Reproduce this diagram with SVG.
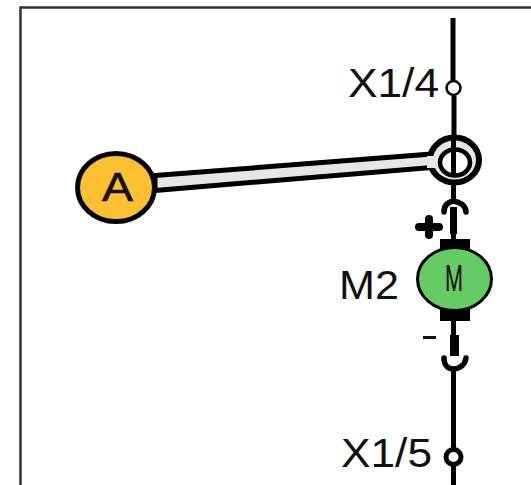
<svg xmlns="http://www.w3.org/2000/svg" width="531" height="485" viewBox="0 0 531 485">
<style>
text{font-family:"Liberation Sans",Arial,sans-serif;fill:#111}
.lab{font-size:41px}
.w{fill:none;stroke:#000;stroke-width:5}
.f{fill:none;stroke:#000;stroke-width:5.500;stroke-linecap:round}
</style>
<rect width="531" height="485" fill="#fff"/>
<path d="M20.500 485V7.500H531" fill="none" stroke="#333" stroke-width="2.500"/>
<g id="connectors">
<path class="w" d="M453 18V80M454 96V140M453.500 184V202M453.500 233V240M453.500 320V336M453.500 368V450M453.500 464V485"/>
<path class="f" d="M444 212C444 205 448 202 453.500 201C459 202 466 205 466 212"/>
<path d="M453.500 207V234" stroke="#000" stroke-width="7" fill="none"/>
<path class="f" d="M444 358C444 366 449 369 453.500 369C458 369 465 366 466 358"/>
<path d="M454.500 335V356" stroke="#000" stroke-width="9" fill="none"/>
</g>
<g id="X1-4"><circle cx="453.500" cy="88" r="7" fill="#fff" stroke="#000" stroke-width="2.500"/><text class="lab" x="348" y="97" textLength="91" lengthAdjust="spacingAndGlyphs">X1/4</text></g>
<g id="X1-5"><circle cx="453.500" cy="457" r="7.500" fill="#fff" stroke="#000" stroke-width="5"/><text class="lab" x="341" y="467" textLength="91" lengthAdjust="spacingAndGlyphs">X1/5</text></g>
<g id="A">
<path d="M155 175.500L432 154V167.500L155 190.500Z" fill="#e6e6e6" stroke="#000" stroke-width="5"/>
<ellipse cx="454.500" cy="160" rx="24.500" ry="22.500" fill="#e6e6e6" stroke="#000" stroke-width="6"/>
<path d="M431 156V168" stroke="#e6e6e6" stroke-width="8"/>
<ellipse cx="455" cy="162.500" rx="15" ry="13" fill="#fff" stroke="#000" stroke-width="4.500"/>
<path d="M453.500 138V175" stroke="#000" stroke-width="5"/>
<ellipse cx="116" cy="187.500" rx="38.500" ry="34" fill="#fdc030" stroke="#000" stroke-width="5"/>
<text x="102" y="201" font-size="41" textLength="31" lengthAdjust="spacingAndGlyphs" stroke="#111" stroke-width="0.600">A</text>
</g>
<g id="M2">
<rect x="440" y="239" width="30" height="14" fill="#000"/>
<rect x="440" y="308" width="30" height="13" fill="#000"/>
<ellipse cx="454.500" cy="279" rx="37" ry="31.500" fill="#63cc63" stroke="#000" stroke-width="3"/>
<text x="445" y="291" font-size="36" textLength="18" lengthAdjust="spacingAndGlyphs" style="font-family:Roboto,sans-serif">M</text>
<text class="lab" x="339" y="299" textLength="60" lengthAdjust="spacingAndGlyphs">M2</text>
</g>
<g id="polarity">
<path d="M419 227H439M429 219V235" stroke="#000" stroke-width="8" stroke-linecap="round"/>
<path d="M423 337.500H436" stroke="#111" stroke-width="3"/>
</g>
</svg>
